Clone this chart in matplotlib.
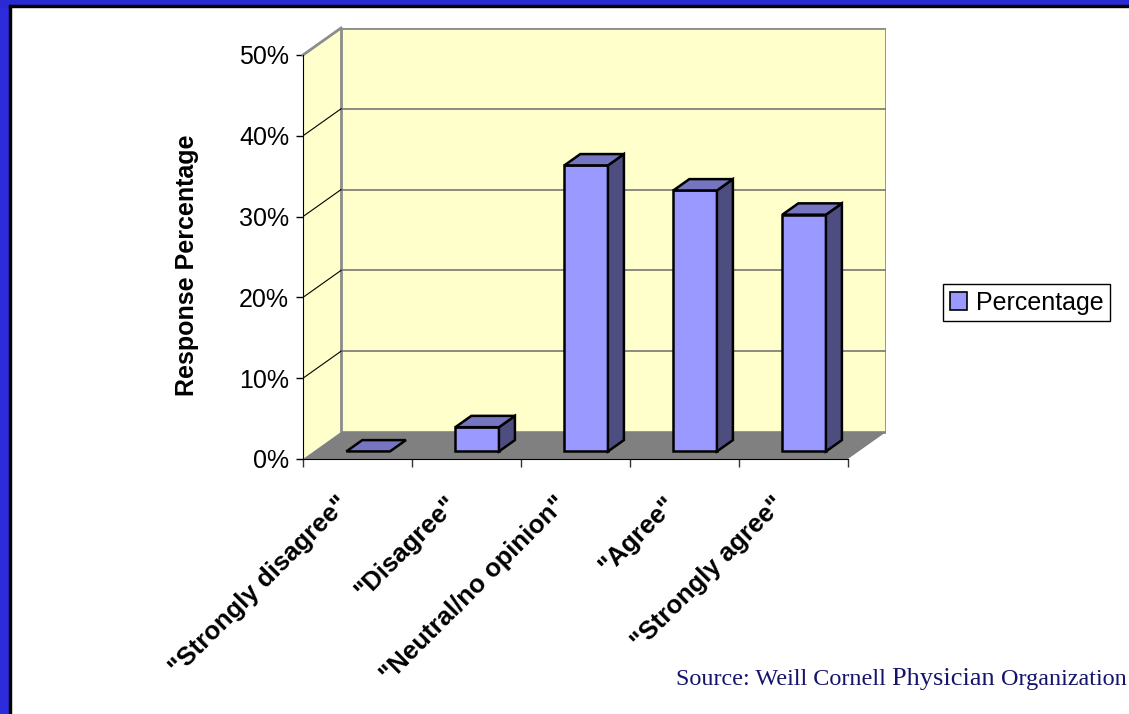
import matplotlib
matplotlib.use("Agg")
import matplotlib.pyplot as plt
from matplotlib.patches import Polygon, Rectangle, Patch
import numpy as np

plt.rcParams['font.family'] = ['Liberation Sans', 'DejaVu Sans']

categories = ['"Strongly disagree"', '"Disagree"', '"Neutral/no opinion"', '"Agree"', '"Strongly agree"']
percent = [0.0, 3.0, 35.4, 32.3, 29.3]
yticks = [0, 10, 20, 30, 40, 50]
series_name = 'Percentage'

# oblique depth of the 3d box, in data units (categories, percent)
DX, DY = 0.349, 3.34
YMAX = 50
N = len(categories)
BW = 0.40            # bar width in category units
D0, D1 = 0.28, 0.70  # bar front/back depth as fraction of box depth

WALL = '#FFFFCC'
FLOOR = '#808080'
FRONT, TOP, SIDE = '#9999FF', '#7575C2', '#4D4D80'

W, H = 1129, 714
fig = plt.figure(figsize=(W / 100, H / 100), dpi=100)
fig.patch.set_facecolor('white')

# slide frame: blue band on the top and left with a thin black inner line
fig.add_artist(Rectangle((0, 0), 10 / W, 1, transform=fig.transFigure, color='#2C2CDC', zorder=0))
fig.add_artist(Rectangle((0, 1 - 6 / H), 1, 6 / H, transform=fig.transFigure, color='#2A2AD2', zorder=0))
fig.add_artist(Rectangle((9 / W, 0), 1.6 / W, 1 - 5 / H, transform=fig.transFigure, color='black', zorder=1))
fig.add_artist(Rectangle((9 / W, 1 - 6.5 / H), 1 - 9 / W, 1.6 / H, transform=fig.transFigure, color='black', zorder=1))

x0, x1, ytop, ybot = 303, 886, 28, 459
ax = fig.add_axes([x0 / W, 1 - ybot / H, (x1 - x0) / W, (ybot - ytop) / H])
ax.set_xlim(0, N + DX)
ax.set_ylim(0, YMAX + DY)
ax.patch.set_alpha(0)


def P(x, y, d):
    return (x + d * DX, y + d * DY)


# walls and floor
ax.add_patch(Polygon([P(0, 0, 0), P(0, 0, 1), P(0, YMAX, 1), P(0, YMAX, 0)],
                     closed=True, facecolor=WALL, edgecolor='none', zorder=1))
ax.add_patch(Polygon([P(0, 0, 1), P(N, 0, 1), P(N, YMAX, 1), P(0, YMAX, 1)],
                     closed=True, facecolor=WALL, edgecolor='#8C8C8C', lw=2, zorder=1))
ax.add_patch(Polygon([P(0, 0, 0), P(N, 0, 0), P(N, 0, 1), P(0, 0, 1)],
                     closed=True, facecolor=FLOOR, edgecolor='none', zorder=2))
ax.plot(*zip(P(0, YMAX, 0), P(0, YMAX, 1)), color='#8C8C8C', lw=2, zorder=2, clip_on=False)

# gridlines on back wall and side wall
for v in yticks[1:-1]:
    ax.plot(*zip(P(0, v, 1), P(N, v, 1)), color='#777777', lw=1.2, zorder=2)
    ax.plot(*zip(P(0, v, 0), P(0, v, 1)), color='black', lw=0.8, zorder=2)

# 3d bars
for i, v in enumerate(percent):
    xl = i + 0.5 - BW / 2
    xr = xl + BW
    front = [P(xl, 0, D0), P(xr, 0, D0), P(xr, v, D0), P(xl, v, D0)]
    top = [P(xl, v, D0), P(xr, v, D0), P(xr, v, D1), P(xl, v, D1)]
    side = [P(xr, 0, D0), P(xr, 0, D1), P(xr, v, D1), P(xr, v, D0)]
    if v > 0:
        ax.add_patch(Polygon(front, closed=True, facecolor=FRONT, edgecolor='black', lw=1.8, zorder=5))
        ax.add_patch(Polygon(side, closed=True, facecolor=SIDE, edgecolor='black', lw=1.8, zorder=5))
    ax.add_patch(Polygon(top, closed=True, facecolor=TOP, edgecolor='black', lw=1.8, zorder=5))

# axes lines and ticks
for s in ['top', 'right']:
    ax.spines[s].set_visible(False)
ax.spines['left'].set_bounds(0, YMAX)
ax.spines['bottom'].set_bounds(0, N)
ax.spines['left'].set_zorder(6)
ax.spines['bottom'].set_zorder(6)
ax.set_yticks(yticks)
ax.set_yticklabels([f'{t}%' for t in yticks], fontsize=18)
ax.set_xticks(np.arange(N + 1))
ax.set_xticklabels([])
ax.tick_params(axis='y', length=5, width=1, pad=5, colors='black')
ax.tick_params(axis='x', length=6, width=1, color='#333333')

for i, lab in enumerate(categories):
    ax.annotate(lab, xy=(i + 0.5, 0), xytext=(-9.5, -30), textcoords='offset points',
                rotation=45, rotation_mode='anchor', ha='right', va='center',
                fontsize=18.5, fontweight='bold', annotation_clip=False)

fig.text(187 / W, 1 - 265 / H, 'Response Percentage', rotation=90, ha='center', va='center',
         fontsize=18, fontweight='bold')

leg = fig.legend(handles=[Patch(facecolor=FRONT, edgecolor='black', lw=1.2, label=series_name)],
                 loc='center', bbox_to_anchor=((942 + 1111) / 2 / W, 1 - (282 + 323) / 2 / H),
                 bbox_transform=fig.transFigure, fontsize=18, fancybox=False, framealpha=1,
                 handlelength=0.7, handleheight=0.7, handletextpad=0.35, borderpad=0.25,
                 borderaxespad=0)
leg.get_frame().set_edgecolor('black')
leg.get_frame().set_linewidth(1)

# source line, "Physician" set a little larger
src_col = '#14146C'
serif = ['Liberation Serif', 'DejaVu Serif']
pieces = [('Source: Weill Cornell ', 17.4), ('Physician ', 19), ('Organization', 17.4)]
fig.canvas.draw()
r = fig.canvas.get_renderer()
xpos = 676
for txt, fs in pieces:
    t = fig.text(xpos / W, 1 - 685 / H, txt, family=serif, fontsize=fs, color=src_col, va='baseline')
    xpos = t.get_window_extent(r).x1

fig.savefig('out.png', dpi=100)
